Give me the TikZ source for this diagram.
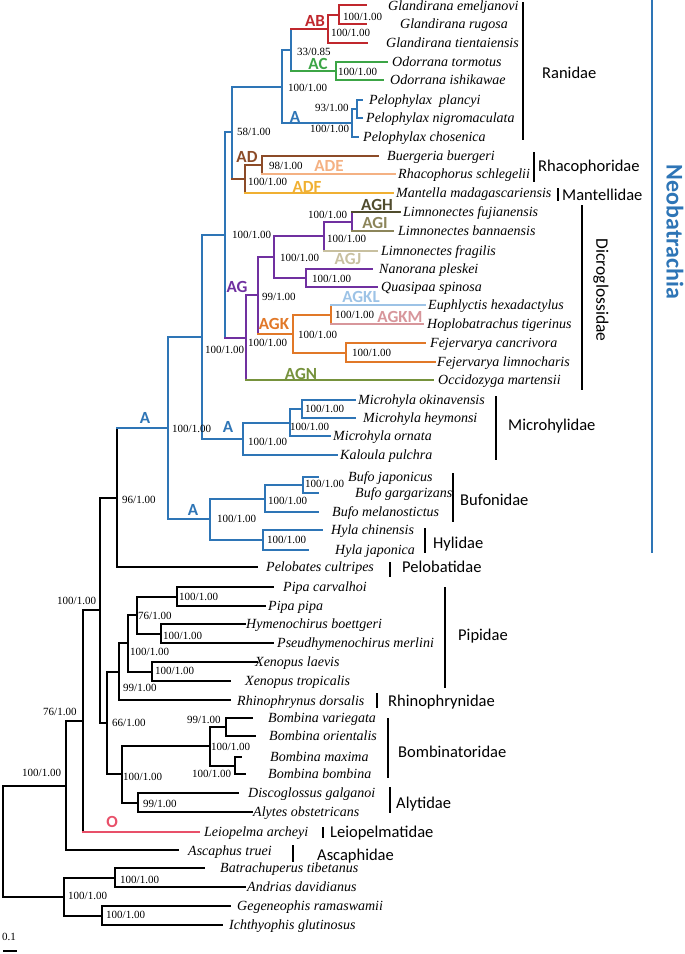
\documentclass[tikz,border=0pt]{standalone}
\usepackage{fontspec}
\setmainfont{Liberation Serif}
\newfontfamily\carlito{Carlito}
\definecolor{nblue}{RGB}{46,117,182}
\definecolor{cAB}{RGB}{192,39,45}
\definecolor{cAC}{RGB}{60,165,70}
\definecolor{cAD}{RGB}{140,75,40}
\definecolor{cADE}{RGB}{244,177,131}
\definecolor{cADF}{RGB}{240,176,50}
\definecolor{cAG}{RGB}{112,48,160}
\definecolor{cAGH}{RGB}{80,76,45}
\definecolor{cAGI}{RGB}{140,133,90}
\definecolor{cAGJ}{RGB}{200,192,160}
\definecolor{cAGK}{RGB}{225,120,40}
\definecolor{cAGKL}{RGB}{157,195,230}
\definecolor{cAGKM}{RGB}{215,150,155}
\definecolor{cAGN}{RGB}{118,146,60}
\definecolor{cO}{RGB}{232,80,105}
\newcommand\tn[6]{%
  \draw[br,#1] (#2|-#3) -- (#2|-#5);
  \draw[br,#4] (#2|-#3) -- (#3);
  \draw[br,#6] (#2|-#5) -- (#5);}
\tikzset{
  br/.style={line width=2pt,line cap=rect},
  taxon/.style={font=\itshape\fontsize{14}{14}\selectfont,anchor=base west,inner sep=0pt,yshift=-4.5pt},
  supp/.style={font=\fontsize{11}{11}\selectfont,anchor=base west,inner sep=0pt,yshift=-3.6pt},
  clade/.style={font=\carlito\bfseries\fontsize{17}{17}\selectfont,anchor=base,inner sep=0pt,yshift=-5.5pt},
  fam/.style={font=\carlito\fontsize{16.5}{16.5}\selectfont,anchor=base west,inner sep=0pt,yshift=-5.4pt},
  bracket/.style={line width=2pt},
}
\begin{document}
\begin{tikzpicture}[x=1pt,y=-1pt]
\useasboundingbox (0,0) rectangle (685,954);
% ---- coordinates
\coordinate (l1) at (366,5);   \coordinate (l2) at (366,24);  \coordinate (n1) at (339,14.5);
\coordinate (l3) at (367,43);  \coordinate (ab) at (328,28.75);
\coordinate (l4) at (387,62);  \coordinate (l5) at (383,80);  \coordinate (ac) at (336,71);
\coordinate (n2) at (291,50);
\coordinate (l6) at (362,100); \coordinate (l7) at (362,118); \coordinate (n3) at (357,109);
\coordinate (l8) at (358,137); \coordinate (n4) at (352,123);
\coordinate (n5) at (282,86.5);
\coordinate (l9) at (378,156); \coordinate (l10) at (395,174); \coordinate (n6) at (262,165);
\coordinate (l11) at (393,193); \coordinate (ad) at (245,179);
\coordinate (n7) at (232,132);
\coordinate (l12) at (400,212); \coordinate (l13) at (393,231); \coordinate (n8) at (352,221.5);
\coordinate (l14) at (377,251); \coordinate (n9) at (324,236);
\coordinate (l15) at (372,269); \coordinate (l16) at (377,287); \coordinate (n10) at (306,278);
\coordinate (n11) at (274,257);
\coordinate (l17) at (425,305); \coordinate (l18) at (423,324); \coordinate (n12) at (331,314.5);
\coordinate (l19) at (425,343); \coordinate (l20) at (435,362); \coordinate (n13) at (346,352.5);
\coordinate (agk) at (293,333.5);
\coordinate (n14) at (258,295);
\coordinate (l21) at (433,380); \coordinate (ag) at (246,337.5);
\coordinate (n15) at (225,235);
\coordinate (l22) at (355,400); \coordinate (l23) at (355,418); \coordinate (n16) at (302,409);
\coordinate (l24) at (330,436); \coordinate (n17) at (290,422.5);
\coordinate (l25) at (337,455); \coordinate (n18) at (243,438.75);
\coordinate (n19) at (202,337);
\coordinate (l26) at (318,477); \coordinate (l27) at (318,493); \coordinate (n20) at (303,485);
\coordinate (l28) at (318,512); \coordinate (n21) at (265,498.5);
\coordinate (l29) at (322,530); \coordinate (l30) at (308,550); \coordinate (n22) at (263,540);
\coordinate (n23) at (210,519.25);
\coordinate (n24) at (168,428);
\coordinate (l31) at (257,567); \coordinate (n25) at (117,497.5);
\coordinate (l32) at (273,587); \coordinate (l33) at (265,606); \coordinate (n26) at (177,596.5);
\coordinate (l34) at (245,624); \coordinate (l35) at (273,643); \coordinate (n27) at (161,633.5);
\coordinate (n28) at (137,615);
\coordinate (l36) at (257,662); \coordinate (l37) at (230,681); \coordinate (n29) at (152,671.5);
\coordinate (n30) at (128,643.25);
\coordinate (l38) at (230,700); \coordinate (n31) at (119,671.6);
\coordinate (l39) at (252,718); \coordinate (l40) at (255,736); \coordinate (n32) at (226,727);
\coordinate (l41) at (241,757); \coordinate (l42) at (245,774); \coordinate (n33) at (235,765.5);
\coordinate (n34) at (210,746.25);
\coordinate (l43) at (238,793); \coordinate (l44) at (252,812); \coordinate (n35) at (138,802.5);
\coordinate (n36) at (122,774.4);
\coordinate (n37) at (107,723);
\coordinate (n38) at (100,610.25);
\coordinate (l45) at (199,832); \coordinate (n39) at (83,721);
\coordinate (l46) at (178,850); \coordinate (n40) at (66,785.5);
\coordinate (l47) at (204,868); \coordinate (l48) at (245,887); \coordinate (n41) at (115,877.5);
\coordinate (l49) at (230,906); \coordinate (l50) at (222,925); \coordinate (n42) at (102,915.5);
\coordinate (n43) at (64,896.5);
\coordinate (root) at (3,841);
% ---- tree
\tn{cAB}{n1}{l1}{cAB}{l2}{cAB}
\tn{cAB}{ab}{n1}{cAB}{l3}{cAB}
\tn{cAC}{ac}{l4}{cAC}{l5}{cAC}
\tn{nblue}{n2}{ab}{cAB}{ac}{cAC}
\tn{nblue}{n3}{l6}{nblue}{l7}{nblue}
\tn{nblue}{n4}{n3}{nblue}{l8}{nblue}
\tn{nblue}{n5}{n2}{nblue}{n4}{nblue}
\tn{cAD}{n6}{l9}{cAD}{l10}{cADE}
\tn{cAD}{ad}{n6}{cAD}{l11}{cADF}
\tn{nblue}{n7}{n5}{nblue}{ad}{cAD}
\tn{cAG}{n8}{l12}{cAGH}{l13}{cAGI}
\tn{cAG}{n9}{n8}{cAG}{l14}{cAGJ}
\tn{cAG}{n10}{l15}{cAG}{l16}{cAG}
\tn{cAG}{n11}{n9}{cAG}{n10}{cAG}
\tn{cAGK}{n12}{l17}{cAGKL}{l18}{cAGKM}
\tn{cAGK}{n13}{l19}{cAGK}{l20}{cAGK}
\tn{cAGK}{agk}{n12}{cAGK}{n13}{cAGK}
\tn{cAG}{n14}{n11}{cAG}{agk}{cAGK}
\tn{cAG}{ag}{n14}{cAG}{l21}{cAGN}
\tn{nblue}{n15}{n7}{nblue}{ag}{cAG}
\tn{nblue}{n16}{l22}{nblue}{l23}{nblue}
\tn{nblue}{n17}{n16}{nblue}{l24}{nblue}
\tn{nblue}{n18}{n17}{nblue}{l25}{nblue}
\tn{nblue}{n19}{n15}{nblue}{n18}{nblue}
\tn{nblue}{n20}{l26}{nblue}{l27}{nblue}
\tn{nblue}{n21}{n20}{nblue}{l28}{nblue}
\tn{nblue}{n22}{l29}{nblue}{l30}{nblue}
\tn{nblue}{n23}{n21}{nblue}{n22}{nblue}
\tn{nblue}{n24}{n19}{nblue}{n23}{nblue}
\tn{black}{n25}{n24}{nblue}{l31}{black}
\tn{black}{n26}{l32}{black}{l33}{black}
\tn{black}{n27}{l34}{black}{l35}{black}
\tn{black}{n28}{n26}{black}{n27}{black}
\tn{black}{n29}{l36}{black}{l37}{black}
\tn{black}{n30}{n28}{black}{n29}{black}
\tn{black}{n31}{n30}{black}{l38}{black}
\tn{black}{n32}{l39}{black}{l40}{black}
\tn{black}{n33}{l41}{black}{l42}{black}
\tn{black}{n34}{n32}{black}{n33}{black}
\tn{black}{n35}{l43}{black}{l44}{black}
\tn{black}{n36}{n34}{black}{n35}{black}
\tn{black}{n37}{n31}{black}{n36}{black}
\tn{black}{n38}{n25}{black}{n37}{black}
\tn{black}{n39}{n38}{black}{l45}{cO}
\tn{black}{n40}{n39}{black}{l46}{black}
\tn{black}{n41}{l47}{black}{l48}{black}
\tn{black}{n42}{l49}{black}{l50}{black}
\tn{black}{n43}{n41}{black}{n42}{black}
\tn{black}{root}{n40}{black}{n43}{black}
% ---- taxa
\node[taxon] (t1) at (388,6) {Glandirana emeljanovi};
\node[taxon] (t2) at (400,24) {Glandirana rugosa};
\node[taxon] (t3) at (386,43) {Glandirana tientaiensis};
\node[taxon] (t4) at (392,62) {Odorrana tormotus};
\node[taxon] (t5) at (390,80) {Odorrana ishikawae};
\node[taxon] (t6) at (369,100) {Pelophylax~ plancyi};
\node[taxon] (t7) at (366,118) {Pelophylax nigromaculata};
\node[taxon] (t8) at (363,137) {Pelophylax chosenica};
\node[taxon] (t9) at (387,156) {Buergeria buergeri};
\node[taxon] (t10) at (398,174) {Rhacophorus schlegelii};
\node[taxon] (t11) at (396,193) {Mantella madagascariensis};
\node[taxon] (t12) at (403,212) {Limnonectes fujianensis};
\node[taxon] (t13) at (398,231) {Limnonectes bannaensis};
\node[taxon] (t14) at (381,251) {Limnonectes fragilis};
\node[taxon] (t15) at (379,269) {Nanorana pleskei};
\node[taxon] (t16) at (381,287) {Quasipaa spinosa};
\node[taxon] (t17) at (428,305) {Euphlyctis hexadactylus};
\node[taxon] (t18) at (427,324) {Hoplobatrachus tigerinus};
\node[taxon] (t19) at (430,343) {Fejervarya cancrivora};
\node[taxon] (t20) at (437,362) {Fejervarya limnocharis};
\node[taxon] (t21) at (438,380) {Occidozyga martensii};
\node[taxon] (t22) at (358,400) {Microhyla okinavensis};
\node[taxon] (t23) at (363,418) {Microhyla heymonsi};
\node[taxon] (t24) at (333,436) {Microhyla ornata};
\node[taxon] (t25) at (340,455) {Kaloula pulchra};
\node[taxon] (t26) at (348,477) {Bufo japonicus};
\node[taxon] (t27) at (355,493) {Bufo gargarizans};
\node[taxon] (t28) at (332,512) {Bufo melanostictus};
\node[taxon] (t29) at (331,530) {Hyla chinensis};
\node[taxon] (t30) at (335,550) {Hyla japonica};
\node[taxon] (t31) at (266,567) {Pelobates cultripes};
\node[taxon] (t32) at (283,587) {Pipa carvalhoi};
\node[taxon] (t33) at (268,606) {Pipa pipa};
\node[taxon] (t34) at (246,624) {Hymenochirus boettgeri};
\node[taxon] (t35) at (277,643) {Pseudhymenochirus merlini};
\node[taxon] (t36) at (255,662) {Xenopus laevis};
\node[taxon] (t37) at (245,681) {Xenopus tropicalis};
\node[taxon] (t38) at (237,701) {Rhinophrynus dorsalis};
\node[taxon] (t39) at (268,718) {Bombina variegata};
\node[taxon] (t40) at (269,736) {Bombina orientalis};
\node[taxon] (t41) at (270,757) {Bombina maxima};
\node[taxon] (t42) at (268,774) {Bombina bombina};
\node[taxon] (t43) at (248,793) {Discoglossus galganoi};
\node[taxon] (t44) at (253,812) {Alytes obstetricans};
\node[taxon] (t45) at (204,832) {Leiopelma archeyi};
\node[taxon] (t46) at (188,851) {Ascaphus truei};
\node[taxon] (t47) at (220,868) {Batrachuperus tibetanus};
\node[taxon] (t48) at (247,887) {Andrias davidianus};
\node[taxon] (t49) at (237,906) {Gegeneophis ramaswamii};
\node[taxon] (t50) at (229,925) {Ichthyophis glutinosus};
% ---- support values
\node[supp] (s1) at (343,17) {100/1.00};
\node[supp] (s2) at (331,33) {100/1.00};
\node[supp] (s3) at (297,52) {33/0.85};
\node[supp] (s4) at (338,72) {100/1.00};
\node[supp] (s5) at (315,108) {93/1.00};
\node[supp] (s6) at (310,129) {100/1.00};
\node[supp] (s7) at (288,88) {100/1.00};
\node[supp] (s8) at (237,132) {58/1.00};
\node[supp] (s9) at (269,166) {98/1.00};
\node[supp] (s10) at (248,182) {100/1.00};
\node[supp] (s11) at (308,215) {100/1.00};
\node[supp] (s12) at (327,239) {100/1.00};
\node[supp] (s13) at (280,258) {100/1.00};
\node[supp] (s14) at (312,279) {100/1.00};
\node[supp] (s15) at (232,235) {100/1.00};
\node[supp] (s16) at (262,297) {99/1.00};
\node[supp] (s17) at (335,315) {100/1.00};
\node[supp] (s18) at (298,335) {100/1.00};
\node[supp] (s19) at (352,353) {100/1.00};
\node[supp] (s20) at (248,343) {100/1.00};
\node[supp] (s21) at (205,350) {100/1.00};
\node[supp] (s22) at (305,409) {100/1.00};
\node[supp] (s23) at (290,427) {100/1.00};
\node[supp] (s24) at (248,442) {100/1.00};
\node[supp] (s25) at (172,429) {100/1.00};
\node[supp] (s26) at (305,484) {100/1.00};
\node[supp] (s27) at (268,501) {100/1.00};
\node[supp] (s28) at (217,519) {100/1.00};
\node[supp] (s29) at (267,540) {100/1.00};
\node[supp] (s30) at (122,500) {96/1.00};
\node[supp] (s31) at (57,601) {100/1.00};
\node[supp] (s32) at (179,597) {100/1.00};
\node[supp] (s33) at (138,616) {76/1.00};
\node[supp] (s34) at (163,636) {100/1.00};
\node[supp] (s35) at (130,652) {100/1.00};
\node[supp] (s36) at (155,671) {100/1.00};
\node[supp] (s37) at (123,688) {99/1.00};
\node[supp] (s38) at (112,723) {66/1.00};
\node[supp] (s39) at (43,712) {76/1.00};
\node[supp] (s40) at (187,720) {99/1.00};
\node[supp] (s41) at (211,747) {100/1.00};
\node[supp] (s42) at (192,774) {100/1.00};
\node[supp] (s43) at (123,777) {100/1.00};
\node[supp] (s44) at (143,804) {99/1.00};
\node[supp] (s45) at (22,773) {100/1.00};
\node[supp] (s46) at (68,896) {100/1.00};
\node[supp] (s47) at (120,880) {100/1.00};
\node[supp] (s48) at (106,915) {100/1.00};
% ---- clade labels
\node[clade,text=cAB] (c1) at (315,21) {AB};
\node[clade,text=cAC] (c2) at (318,64) {AC};
\node[clade,text=nblue] (c3) at (295,117) {A};
\node[clade,text=cAD] (c4) at (247,157) {AD};
\node[clade,text=cADE] (c5) at (329,166) {ADE};
\node[clade,text=cADF] (c6) at (307,187) {ADF};
\node[clade,text=cAGH] (c7) at (377,205) {AGH};
\node[clade,text=cAGI] (c8) at (375,223) {AGI};
\node[clade,text=cAGJ] (c9) at (348,259) {AGJ};
\node[clade,text=cAG] (c10) at (237,287) {AG};
\node[clade,text=cAGKL] (c11) at (361,297) {AGKL};
\node[clade,text=cAGKM] (c12) at (400,317) {AGKM};
\node[clade,text=cAGK] (c13) at (274,324) {AGK};
\node[clade,text=cAGN] (c14) at (301,374) {AGN};
\node[clade,text=nblue] (c15) at (228,427) {A};
\node[clade,text=nblue] (c16) at (145,418) {A};
\node[clade,text=nblue] (c17) at (193,510) {A};
\node[clade,text=cO] (c18) at (112,822) {O};
% ---- families
\draw[bracket] (523,2) -- (523,140);     \node[fam] (f1) at (542,73) {Ranidae};
\draw[bracket] (534,152) -- (534,182);   \node[fam] (f2) at (538,166) {Rhacophoridae};
\draw[bracket] (558,188) -- (558,201);   \node[fam] (f3) at (562,195) {Mantellidae};
\draw[bracket] (582,205) -- (582,390);
\node[font=\carlito\fontsize{17.5}{17.5}\selectfont,rotate=-90,inner sep=0pt] (f4) at (601,290) {Dicroglossidae};
\draw[bracket] (496,396) -- (496,460);   \node[fam] (f5) at (508,425) {Microhylidae};
\draw[bracket] (453,473) -- (453,522);   \node[fam] (f6) at (460,500) {Bufonidae};
\draw[bracket] (425,528) -- (425,553);   \node[fam] (f7) at (433,543) {Hylidae};
\draw[bracket] (390,562) -- (390,577);   \node[fam] (f8) at (402,567) {Pelobatidae};
\draw[bracket] (445,587) -- (445,688);   \node[fam] (f9) at (458,635) {Pipidae};
\draw[bracket] (377,693) -- (377,708);   \node[fam] (f10) at (388,701) {Rhinophrynidae};
\draw[bracket] (388,718) -- (388,778);   \node[fam] (f11) at (398,752) {Bombinatoridae};
\draw[bracket] (390,787) -- (390,813);   \node[fam] (f12) at (396,803) {Alytidae};
\draw[bracket] (323,827) -- (323,838);   \node[fam] (f13) at (330,832) {Leiopelmatidae};
\draw[bracket] (293,845) -- (293,862);   \node[fam] (f14) at (317,855) {Ascaphidae};
% ---- Neobatrachia
\draw[line width=2.5pt,nblue] (652,0) -- (652,553);
\node[font=\carlito\bfseries\fontsize{24}{24}\selectfont,text=nblue,rotate=-90,inner sep=0pt] (neo) at (675,232) {Neobatrachia};
% ---- scale
\node[supp] (sc) at (2,937) {0.1};
\draw[line width=2pt] (3,951) -- (17,951);
\end{tikzpicture}
\end{document}
